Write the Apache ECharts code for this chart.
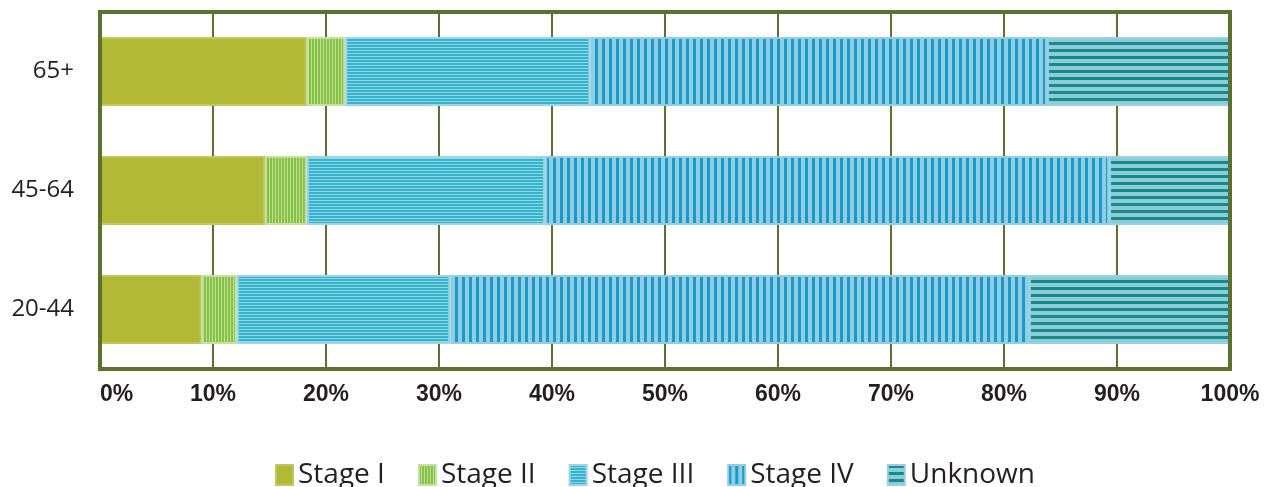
<!DOCTYPE html>
<html>
<head>
<meta charset="utf-8">
<script src="https://cdn.jsdelivr.net/npm/echarts@6/dist/echarts.min.js"></script>
<style>
  html, body { margin: 0; padding: 0; background: #fff; }
  #chart { width: 1265px; height: 487px; }
</style>
</head>
<body>
<div id="chart"></div>
<script>
var categories = ['20-44', '45-64', '65+'];
var seriesNames = ['Stage I', 'Stage II', 'Stage III', 'Stage IV', 'Unknown'];
var stage1 = [9.0, 14.6, 18.3];
var stage2 = [3.1, 3.7, 3.4];
var stage3 = [18.9, 21.1, 21.7];
var stage4 = [51.2, 49.9, 40.4];
var unknown = [17.8, 10.7, 16.2];

// striped fill: dir 'v' = vertical stripes, 'h' = horizontal
function stripes(dir, dark, darkW, light, lightW) {
  var c = document.createElement('canvas');
  var p = darkW + lightW;
  c.width = dir === 'v' ? p : 4;
  c.height = dir === 'v' ? 4 : p;
  var g = c.getContext('2d');
  g.fillStyle = light;
  g.fillRect(0, 0, c.width, c.height);
  g.fillStyle = dark;
  if (dir === 'v') g.fillRect(0, 0, darkW, c.height);
  else g.fillRect(0, 0, c.width, darkW);
  return { image: c, repeat: 'repeat' };
}

var fills = [
  '#b2b935',
  stripes('v', '#86c142', 2, '#bfe09b', 1),
  stripes('h', '#35b4cf', 2, '#94d5e4', 1),
  stripes('v', '#1f98c6', 3, '#8ccee3', 4),
  stripes('h', '#1a8a87', 3, '#8ccbdc', 4)
];
var borders = ['#bfc75e', '#c5e0a3', '#9ed6e6', '#8fcfe3', '#9ad0e2'];
var values = [stage1, stage2, stage3, stage4, unknown];

var chart = echarts.init(document.getElementById('chart'));
chart.setOption({
  animation: false,
  grid: {
    left: 100, right: 35, top: 12, bottom: 118,
    show: true, borderColor: '#5b7130', borderWidth: 4,
    backgroundColor: 'transparent', z: 10
  },
  legend: {
    left: 270, top: 456,
    itemWidth: 17, itemHeight: 20, itemGap: 33,
    icon: 'rect',
    textStyle: { fontFamily: 'Open Sans', fontSize: 28, color: '#231f20' },
    data: seriesNames
  },
  xAxis: {
    type: 'value', min: 0, max: 100, interval: 10,
    axisLine: { show: false },
    axisTick: { show: false },
    splitLine: { show: true, lineStyle: { color: '#5b7130', width: 2 } },
    axisLabel: {
      formatter: '{value}%', margin: 14,
      alignMinLabel: 'left',
      fontFamily: 'Liberation Sans', fontWeight: 'bold', fontSize: 23, color: '#231f20'
    }
  },
  yAxis: {
    type: 'category', data: categories,
    axisLine: { show: false },
    axisTick: { show: false },
    axisLabel: { margin: 26, fontFamily: 'Open Sans', fontSize: 24, color: '#231f20' }
  },
  series: seriesNames.map(function (n, i) {
    return {
      name: n, type: 'bar', stack: 'all',
      barCategoryGap: '42%',
      data: values[i],
      itemStyle: { color: fills[i], borderColor: borders[i], borderWidth: 2 }
    };
  })
});
</script>
</body>
</html>
